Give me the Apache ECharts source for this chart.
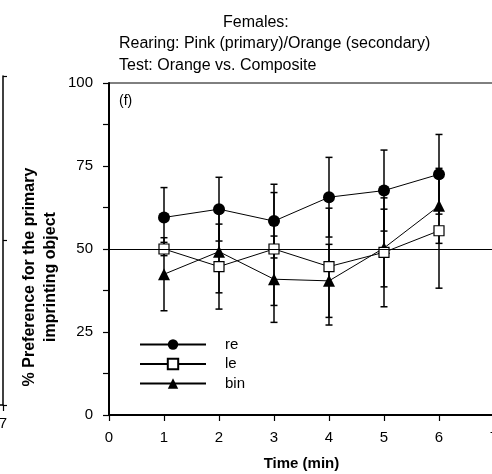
<!DOCTYPE html>
<html>
<head>
<meta charset="utf-8">
<script src="https://cdn.jsdelivr.net/npm/echarts@6/dist/echarts.min.js"></script>
<style>
  html, body { margin: 0; padding: 0; background: #fff; }
  #chart { width: 492px; height: 474px; }
</style>
</head>
<body>
<div id="chart"></div>
<script>
// time points (min)
var times = [1, 2, 3, 4, 5, 6];
var seriesNames = ["re", "le", "bin"];

// mean % preference and error (half bar length)
var reMean = [59.5, 62.0, 58.4, 65.6, 67.6, 72.5];
var reErr = [9.0, 9.6, 11.1, 12.0, 12.2, 12.0];
var leMean = [50.0, 44.7, 50.0, 44.7, 49.0, 55.5];
var leErr = [2.0, 12.8, 17.0, 17.6, 16.4, 17.3];
var binMean = [42.4, 49.2, 40.9, 40.4, 50.3, 63.0];
var binErr = [11.0, 12.4, 13.0, 11.0, 11.7, 11.3];

var xTicks = [0, 1, 2, 3, 4, 5, 6, 7];
var yTicks = [0, 25, 50, 75, 100];

function pairs(m) {
  return times.map(function (t, i) { return [t, m[i]]; });
}
function errData(m, e) {
  return times.map(function (t, i) { return [t, m[i] - e[i], m[i] + e[i]]; });
}

// vertical error bar with caps
function renderErr(params, api) {
  var x = api.value(0);
  var lo = api.coord([x, api.value(1)]);
  var hi = api.coord([x, api.value(2)]);
  var w = 3.5;
  var st = { stroke: "#000", lineWidth: 1.5 };
  return {
    type: "group",
    children: [
      { type: "line", shape: { x1: lo[0], y1: lo[1], x2: hi[0], y2: hi[1] }, style: st },
      { type: "line", shape: { x1: lo[0] - w, y1: lo[1], x2: lo[0] + w, y2: lo[1] }, style: st },
      { type: "line", shape: { x1: hi[0] - w, y1: hi[1], x2: hi[0] + w, y2: hi[1] }, style: st }
    ]
  };
}

var chart = echarts.init(document.getElementById("chart"), null, { renderer: "canvas" });
var font = "Liberation Sans, Arial, sans-serif";

var option = {
  animation: false,
  textStyle: { fontFamily: font, color: "#000" },
  title: [
    {
      text: "Females:",
      left: 218, top: 9,
      textStyle: { fontSize: 16, fontWeight: "normal", color: "#000", fontFamily: font, lineHeight: 18 }
    },
    {
      text: "Rearing: Pink (primary)/Orange (secondary)\nTest: Orange vs. Composite",
      left: 114, top: 28,
      textStyle: { fontSize: 16, fontWeight: "normal", color: "#000", fontFamily: font, lineHeight: 22 }
    },
    {
      text: "(f)",
      left: 114, top: 89,
      textStyle: { fontSize: 14, fontWeight: "normal", color: "#000", fontFamily: font }
    }
  ],
  legend: {
    data: seriesNames,
    orient: "vertical",
    left: 134, top: 332,
    itemWidth: 66, itemHeight: 13, itemGap: 4.5,
    textStyle: { fontSize: 15, color: "#000", fontFamily: font, padding: [0, 0, 0, 14] }
  },
  grid: [
    {
      left: 109, right: -2, top: 83, bottom: 59, outerBoundsMode: "none",
      show: true, borderColor: "#000", borderWidth: 1
    },
    // right edge of the neighbouring panel
    { left: -397, width: 400, top: 76, bottom: 69, outerBoundsMode: "none" }
  ],
  xAxis: [
    {
      type: "value", min: 0, max: 7, interval: 1,
      name: "Time (min)", nameLocation: "middle", nameGap: 41,
      nameTextStyle: { fontSize: 15, fontWeight: "bold", color: "#000", fontFamily: font },
      axisLine: { lineStyle: { color: "#000", width: 2 } },
      axisTick: { length: 6, lineStyle: { color: "#000", width: 1.2 } },
      axisLabel: { fontSize: 15, color: "#000", margin: 15, fontFamily: font, hideOverlap: false,
        formatter: function (v) { return xTicks.indexOf(v) >= 0 ? String(v) : ""; } },
      splitLine: { show: false }
    },
    {
      type: "value", gridIndex: 1, min: 0, max: 7, interval: 1,
      axisLine: { onZero: false, lineStyle: { color: "#000", width: 1.5 } },
      axisTick: { show: true, length: 6, lineStyle: { color: "#000", width: 1.2 } },
      axisLabel: { fontSize: 15, color: "#000", margin: 11, fontFamily: font,
        formatter: function (v) { return v === 7 ? "7" : ""; } },
      splitLine: { show: false }
    }
  ],
  yAxis: [
    {
      type: "value", min: 0, max: 100, interval: 25,
      name: "% Preference for the primary\nimprinting object",
      nameLocation: "middle", nameGap: 48, nameMoveOverlap: false,
      nameTextStyle: { fontSize: 16, fontWeight: "bold", color: "#000", fontFamily: font,
        lineHeight: 21, padding: [0, 56, 0, 0] },
      axisLine: { lineStyle: { color: "#000", width: 2 } },
      axisTick: { length: 6, lineStyle: { color: "#000", width: 1.2 } },
      minorTick: { show: true, splitNumber: 2, length: 6, lineStyle: { color: "#000", width: 1.2 } },
      axisLabel: { fontSize: 15, color: "#000", margin: 16, fontFamily: font, padding: [5, 0, 0, 0],
        formatter: function (v) { return yTicks.indexOf(v) >= 0 ? String(v) : ""; } },
      splitLine: { show: false }
    },
    {
      type: "value", gridIndex: 1, position: "right", min: 0, max: 100, interval: 50,
      axisLine: { show: true, onZero: false, lineStyle: { color: "#000", width: 1.5 } },
      axisTick: { show: true, length: 4, lineStyle: { color: "#000", width: 1.2 } },
      axisLabel: { show: false },
      splitLine: { show: false }
    }
  ],
  series: [
    { type: "custom", name: "reErr", renderItem: renderErr, data: errData(reMean, reErr), z: 1, silent: true },
    { type: "custom", name: "leErr", renderItem: renderErr, data: errData(leMean, leErr), z: 1, silent: true },
    { type: "custom", name: "binErr", renderItem: renderErr, data: errData(binMean, binErr), z: 1, silent: true },
    {
      type: "line", name: "re", data: pairs(reMean), z: 3,
      symbol: "circle", symbolSize: 12,
      itemStyle: { color: "#000" },
      lineStyle: { color: "#000", width: 1 },
      markLine: {
        silent: true, symbol: "none", label: { show: false },
        lineStyle: { color: "#000", width: 1, type: "solid" },
        data: [{ yAxis: 50 }]
      }
    },
    {
      type: "line", name: "le", data: pairs(leMean), z: 4,
      symbol: "rect", symbolSize: 10,
      itemStyle: { color: "#fff", borderColor: "#000", borderWidth: 1.2 },
      lineStyle: { color: "#000", width: 1 }
    },
    {
      type: "line", name: "bin", data: pairs(binMean), z: 3,
      symbol: "triangle", symbolSize: 12,
      itemStyle: { color: "#000" },
      lineStyle: { color: "#000", width: 1 }
    }
  ]
};
chart.setOption(option);
</script>
</body>
</html>
